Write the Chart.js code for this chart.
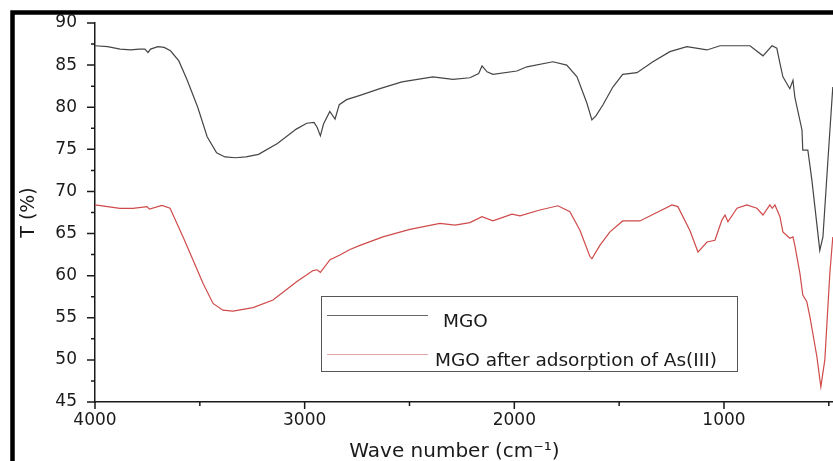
<!DOCTYPE html>
<html>
<head>
<meta charset="utf-8">
<script src="https://cdn.jsdelivr.net/npm/chart.js@4/dist/chart.umd.min.js"></script>
<style>
  html, body { margin: 0; padding: 0; background: #fff; }
  canvas { display: block; }
</style>
</head>
<body>
<canvas id="ftir" width="833" height="461"></canvas>
<script>
// espectro MGO (numero de onda, T%)
const mgoWave = [4000, 3940, 3880, 3830, 3790, 3762, 3747, 3735, 3700, 3670, 3640, 3600, 3560, 3510, 3465, 3420, 3380, 3330, 3280, 3220, 3130, 3040, 2990, 2955, 2940, 2925, 2910, 2880, 2855, 2835, 2800, 2736, 2641, 2536, 2388, 2293, 2212, 2170, 2154, 2130, 2102, 1988, 1940, 1816, 1750, 1701, 1654, 1630, 1610, 1577, 1530, 1483, 1415, 1339, 1258, 1177, 1081, 1019, 876, 814, 771, 748, 733, 719, 686, 671, 662, 628, 624, 600, 581, 543, 528, 505, 481];
const mgoT = [87.3, 87.2, 86.9, 86.8, 86.9, 86.9, 86.5, 86.9, 87.2, 87.1, 86.7, 85.5, 83.2, 80.0, 76.5, 74.6, 74.1, 74.0, 74.1, 74.4, 75.7, 77.4, 78.1, 78.2, 77.6, 76.6, 78.0, 79.5, 78.6, 80.3, 80.9, 81.4, 82.2, 83.0, 83.6, 83.3, 83.5, 84.0, 84.9, 84.2, 83.9, 84.3, 84.8, 85.4, 85.0, 83.6, 80.5, 78.5, 79.0, 80.3, 82.4, 83.9, 84.1, 85.4, 86.6, 87.2, 86.8, 87.3, 87.3, 86.1, 87.3, 87.0, 85.2, 83.6, 82.2, 83.2, 81.2, 77.3, 74.9, 74.9, 71.4, 63.0, 64.6, 73.4, 82.4];

// espectro MGO despues de adsorcion de As(III)
const asWave = [4000, 3940, 3881, 3819, 3752, 3740, 3681, 3642, 3580, 3533, 3485, 3437, 3390, 3342, 3246, 3151, 3037, 2960, 2941, 2925, 2879, 2832, 2784, 2736, 2627, 2498, 2355, 2283, 2212, 2154, 2102, 2011, 1973, 1878, 1792, 1735, 1687, 1640, 1630, 1592, 1544, 1483, 1401, 1320, 1248, 1220, 1163, 1124, 1081, 1043, 1010, 995, 981, 938, 891, 843, 814, 781, 770, 757, 733, 719, 686, 671, 662, 638, 624, 605, 590, 557, 538, 519, 495, 481];
const asT = [68.4, 68.2, 68.0, 68.0, 68.2, 67.9, 68.35, 68.0, 64.6, 61.9, 59.1, 56.7, 55.9, 55.8, 56.2, 57.1, 59.3, 60.6, 60.7, 60.4, 61.9, 62.45, 63.1, 63.6, 64.6, 65.5, 66.2, 66.0, 66.3, 67.0, 66.5, 67.3, 67.1, 67.8, 68.3, 67.6, 65.4, 62.3, 62.0, 63.6, 65.2, 66.5, 66.5, 67.5, 68.4, 68.2, 65.4, 62.8, 64.0, 64.2, 66.6, 67.2, 66.4, 68.0, 68.4, 68.0, 67.2, 68.4, 68.0, 68.4, 67.0, 65.2, 64.45, 64.6, 63.6, 60.3, 57.7, 56.9, 55.1, 50.4, 46.8, 50.0, 60.3, 64.6];

const seriesNames = ['MGO', 'MGO after adsorption of As(III)'];

// marcas de los ejes
const xMajor = [4000, 3000, 2000, 1000];
const xMinor = [3500, 2500, 1500, 500];
const yMajor = [45, 50, 55, 60, 65, 70, 75, 80, 85, 90];
const yMinor = [47.5, 52.5, 57.5, 62.5, 67.5, 72.5, 77.5, 82.5, 87.5];

const FONT = 'DejaVu Sans';
const INK = '#1a1a1a';

const toPoints = (xs, ys) => xs.map((x, i) => ({ x: x, y: ys[i] }));

// marco negro grueso + fondo blanco
const framePlugin = {
  id: 'frame',
  beforeDraw(chart) {
    const ctx = chart.ctx;
    ctx.save();
    ctx.fillStyle = '#fff';
    ctx.fillRect(0, 0, chart.width, chart.height);
    ctx.strokeStyle = '#000';
    ctx.lineWidth = 4.5;
    ctx.strokeRect(12.5, 12.5, chart.width + 20, chart.height + 20);
    ctx.restore();
  }
};

// marcas mayores y menores hacia afuera
const tickMarks = {
  id: 'tickMarks',
  afterDraw(chart) {
    const ctx = chart.ctx;
    const xs = chart.scales.x, ys = chart.scales.y;
    const left = chart.chartArea.left, bottom = chart.chartArea.bottom;
    ctx.save();
    ctx.strokeStyle = INK;
    ctx.lineWidth = 1.5;
    ctx.beginPath();
    yMajor.forEach(v => { const p = ys.getPixelForValue(v); ctx.moveTo(left - 8, p); ctx.lineTo(left, p); });
    yMinor.forEach(v => { const p = ys.getPixelForValue(v); ctx.moveTo(left - 4, p); ctx.lineTo(left, p); });
    xMajor.forEach(v => { const p = xs.getPixelForValue(v); ctx.moveTo(p, bottom); ctx.lineTo(p, bottom + 7); });
    xMinor.forEach(v => { const p = xs.getPixelForValue(v); ctx.moveTo(p, bottom); ctx.lineTo(p, bottom + 4); });
    ctx.stroke();
    ctx.restore();
  }
};

// leyenda en recuadro dentro del area
const legendColors = ['#666', '#e2a4a4'];
const boxLegend = {
  id: 'boxLegend',
  afterDraw(chart) {
    const ctx = chart.ctx;
    ctx.save();
    ctx.fillStyle = '#fff';
    ctx.fillRect(321, 296, 416, 75);
    ctx.strokeStyle = '#555';
    ctx.lineWidth = 1;
    ctx.strokeRect(321.5, 296.5, 416, 75);
    ctx.font = '18.5px "' + FONT + '"';
    ctx.textBaseline = 'middle';
    ctx.fillStyle = INK;
    const rows = [{ y: 315, tx: 443, ty: 322 }, { y: 354, tx: 435, ty: 361 }];
    chart.data.datasets.forEach((ds, i) => {
      const r = rows[i];
      ctx.strokeStyle = legendColors[i];
      ctx.lineWidth = 1.2;
      ctx.beginPath();
      ctx.moveTo(327, r.y + 0.5);
      ctx.lineTo(428, r.y + 0.5);
      ctx.stroke();
      ctx.fillText(ds.label, r.tx, r.ty);
    });
    ctx.restore();
  }
};

new Chart(document.getElementById('ftir'), {
  type: 'line',
  data: {
    datasets: [{
      label: seriesNames[0],
      data: toPoints(mgoWave, mgoT),
      borderColor: '#454545',
      borderWidth: 1.2,
      pointRadius: 0,
      tension: 0
    }, {
      label: seriesNames[1],
      data: toPoints(asWave, asT),
      borderColor: '#cf4a4a',
      borderWidth: 1.2,
      pointRadius: 0,
      tension: 0
    }]
  },
  options: {
    responsive: false,
    animation: false,
    layout: { padding: { top: 23, left: 0, right: 0, bottom: 0 } },
    plugins: { legend: { display: false }, tooltip: { enabled: false } },
    scales: {
      x: {
        type: 'linear',
        reverse: true,
        min: 480,
        max: 4000,
        grid: { display: false },
        border: { display: true, color: INK, width: 1.5 },
        afterBuildTicks: s => { s.ticks = xMajor.map(v => ({ value: v })); },
        ticks: {
          autoSkip: false,
          maxRotation: 0,
          padding: 0,
          color: INK,
          font: { family: FONT, size: 17 },
          callback: v => String(v)
        },
        title: {
          display: true,
          text: 'Wave number (cm\u207B\u00B9)\u00A0\u00A0\u00A0',
          color: INK,
          font: { family: FONT, size: 20 },
          padding: { top: 0, bottom: -3 }
        },
        afterFit: s => { s.height = 59; }
      },
      y: {
        min: 45,
        max: 90,
        grid: { display: false },
        border: { display: true, color: INK, width: 1.5 },
        afterBuildTicks: s => { s.ticks = yMajor.map(v => ({ value: v })); },
        ticks: {
          padding: 10,
          color: INK,
          font: { family: FONT, size: 17 }
        },
        title: {
          display: true,
          text: 'T (%)',
          color: INK,
          font: { family: FONT, size: 19 },
          padding: { top: 18, bottom: 0 }
        },
        afterFit: s => { s.width = 95; }
      }
    }
  },
  plugins: [framePlugin, tickMarks, boxLegend]
});
</script>
</body>
</html>
